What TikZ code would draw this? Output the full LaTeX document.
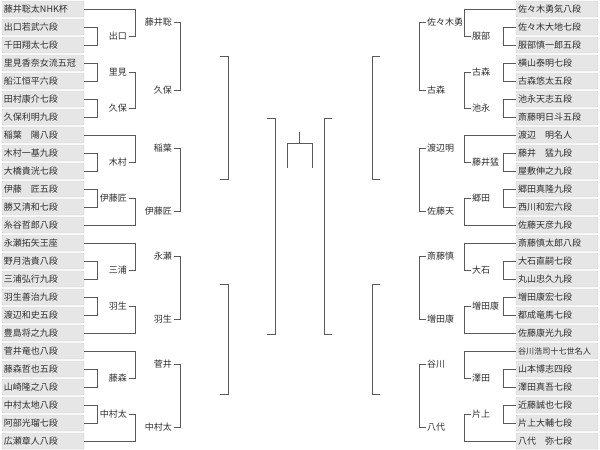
\documentclass[tikz,border=0pt]{standalone}
\usepackage{fontspec}
\newfontfamily\cjk{Noto Sans CJK JP}
\definecolor{boxfill}{HTML}{E6E6E6}
\definecolor{boxline}{HTML}{D0D0D0}
\definecolor{lncol}{HTML}{5A5A5A}
\definecolor{txcol}{HTML}{2E2E2E}
\newcommand\bktL[3]{\draw[brk] (#2.east) -- (#2.east -| #1) -- (#3.east -| #1) -- (#3.east);}
\newcommand\bktR[3]{\draw[brk] (#2.west) -- (#2.west -| #1) -- (#3.west -| #1) -- (#3.west);}
\begin{document}
\begin{tikzpicture}[x=1pt,y=-1pt,
  entry/.style={draw=boxline, fill=boxfill, rounded corners=1pt, minimum height=16pt,
    text width=78pt, inner xsep=2pt, inner ysep=0pt, align=left,
    font=\cjk\fontsize{9}{10}\selectfont, text=txcol},
  wl/.style={anchor=east, inner sep=1.5pt, font=\cjk\fontsize{9}{10}\selectfont, text=txcol},
  wr/.style={anchor=west, inner sep=1.5pt, font=\cjk\fontsize{9}{10}\selectfont, text=txcol},
  emptyl/.style={anchor=east, inner sep=0pt, minimum size=0pt},
  emptyr/.style={anchor=west, inner sep=0pt, minimum size=0pt},
  brk/.style={draw=lncol, line width=1pt}]
\useasboundingbox (0,0) rectangle (600,450);

% columns
\coordinate (cl1) at (97,0);
\coordinate (cl2) at (135,0);
\coordinate (cl3) at (180,0);
\coordinate (cl4) at (228,0);
\coordinate (cl5) at (275,0);
\coordinate (cr1) at (503,0);
\coordinate (cr2) at (464,0);
\coordinate (cr3) at (419,0);
\coordinate (cr4) at (372,0);
\coordinate (cr5) at (324,0);

% left entries
\foreach \t [count=\i from 0] in {藤井聡太NHK杯,出口若武六段,千田翔太七段,里見香奈女流五冠,船江恒平六段,田村康介七段,久保利明九段,稲葉　陽八段,木村一基九段,大橋貴洸七段,伊藤　匠五段,勝又清和七段,糸谷哲郎八段,永瀬拓矢王座,野月浩貴八段,三浦弘行九段,羽生善治九段,渡辺和史五段,豊島将之九段,菅井竜也八段,藤森哲也五段,山崎隆之八段,中村太地八段,阿部光瑠七段,広瀬章人八段}
  \node[entry] (L\i) at (43,{9+18*\i}) {\t};

% right entries
\foreach \t [count=\i from 0] in {佐々木勇気八段,佐々木大地七段,服部慎一郎五段,横山泰明七段,古森悠太五段,池永天志五段,斎藤明日斗五段,渡辺　明名人,藤井　猛九段,屋敷伸之九段,郷田真隆九段,西川和宏六段,佐藤天彦九段,斎藤慎太郎八段,大石直嗣七段,丸山忠久九段,増田康宏七段,都成竜馬七段,佐藤康光九段,{\fontsize{8.1}{10}\selectfont 谷川浩司十七世名人},山本博志四段,澤田真吾七段,近藤誠也七段,片上大輔七段,八代　弥七段}
  \node[entry] (R\i) at (557,{9+18*\i}) {\t};

% left winners, round 1
\node[wl] (a1) at (128.5,36) {出口};
\node[wl] (a3) at (128.5,72) {里見};
\node[wl] (a5) at (128.5,108) {久保};
\node[wl] (a8) at (128.5,162) {木村};
\node[wl] (a10) at (128.5,198) {伊藤匠};
\node[wl] (a14) at (128.5,270) {三浦};
\node[wl] (a16) at (128.5,306) {羽生};
\node[wl] (a20) at (128.5,378) {藤森};
\node[wl] (a22) at (128.5,414) {中村太};
% left winners, round 2
\node[wl] (b0) at (173.5,22.5) {藤井聡};
\node[wl] (b1) at (173.5,90) {久保};
\node[wl] (b2) at (173.5,148.5) {稲葉};
\node[wl] (b3) at (173.5,211.5) {伊藤匠};
\node[wl] (b4) at (173.5,256.5) {永瀬};
\node[wl] (b5) at (173.5,319.5) {羽生};
\node[wl] (b6) at (173.5,364.5) {菅井};
\node[wl] (b7) at (173.5,427.5) {中村太};
% left, undecided
\node[emptyl] (c0) at (220,56) {};
\node[emptyl] (c1) at (220,179) {};
\node[emptyl] (c2) at (220,284) {};
\node[emptyl] (c3) at (220,394) {};
\node[emptyl] (d0) at (267,118) {};
\node[emptyl] (d1) at (267,334) {};

% right winners, round 1
\node[wr] (e1) at (470.5,36) {服部};
\node[wr] (e3) at (470.5,72) {古森};
\node[wr] (e5) at (470.5,108) {池永};
\node[wr] (e8) at (470.5,162) {藤井猛};
\node[wr] (e10) at (470.5,198) {郷田};
\node[wr] (e14) at (470.5,270) {大石};
\node[wr] (e16) at (470.5,306) {増田康};
\node[wr] (e20) at (470.5,378) {澤田};
\node[wr] (e22) at (470.5,414) {片上};
% right winners, round 2
\node[wr] (f0) at (425.5,22.5) {佐々木勇};
\node[wr] (f1) at (425.5,90) {古森};
\node[wr] (f2) at (425.5,148.5) {渡辺明};
\node[wr] (f3) at (425.5,211.5) {佐藤天};
\node[wr] (f4) at (425.5,256.5) {斎藤慎};
\node[wr] (f5) at (425.5,319.5) {増田康};
\node[wr] (f6) at (425.5,364.5) {谷川};
\node[wr] (f7) at (425.5,427.5) {八代};
% right, undecided
\node[emptyr] (g0) at (380,56) {};
\node[emptyr] (g1) at (380,179) {};
\node[emptyr] (g2) at (380,284) {};
\node[emptyr] (g3) at (380,394) {};
\node[emptyr] (h0) at (332,118) {};
\node[emptyr] (h1) at (332,334) {};

% left brackets
\bktL{cl1}{L1}{L2}\bktL{cl1}{L3}{L4}\bktL{cl1}{L5}{L6}\bktL{cl1}{L8}{L9}
\bktL{cl1}{L10}{L11}\bktL{cl1}{L14}{L15}\bktL{cl1}{L16}{L17}\bktL{cl1}{L20}{L21}
\bktL{cl1}{L22}{L23}
\bktL{cl2}{L0}{a1}\bktL{cl2}{a3}{a5}\bktL{cl2}{L7}{a8}\bktL{cl2}{a10}{L12}
\bktL{cl2}{L13}{a14}\bktL{cl2}{a16}{L18}\bktL{cl2}{L19}{a20}\bktL{cl2}{a22}{L24}
\bktL{cl3}{b0}{b1}\bktL{cl3}{b2}{b3}\bktL{cl3}{b4}{b5}\bktL{cl3}{b6}{b7}
\bktL{cl4}{c0}{c1}\bktL{cl4}{c2}{c3}
\bktL{cl5}{d0}{d1}

% right brackets
\bktR{cr1}{R1}{R2}\bktR{cr1}{R3}{R4}\bktR{cr1}{R5}{R6}\bktR{cr1}{R8}{R9}
\bktR{cr1}{R10}{R11}\bktR{cr1}{R14}{R15}\bktR{cr1}{R16}{R17}\bktR{cr1}{R20}{R21}
\bktR{cr1}{R22}{R23}
\bktR{cr2}{R0}{e1}\bktR{cr2}{e3}{e5}\bktR{cr2}{R7}{e8}\bktR{cr2}{e10}{R12}
\bktR{cr2}{R13}{e14}\bktR{cr2}{e16}{R18}\bktR{cr2}{R19}{e20}\bktR{cr2}{e22}{R24}
\bktR{cr3}{f0}{f1}\bktR{cr3}{f2}{f3}\bktR{cr3}{f4}{f5}\bktR{cr3}{f6}{f7}
\bktR{cr4}{g0}{g1}\bktR{cr4}{g2}{g3}
\bktR{cr5}{h0}{h1}

% final
\coordinate (fA) at (287,168);
\coordinate (fB) at (287,143);
\coordinate (fC) at (312,143);
\coordinate (fD) at (312,168);
\coordinate (fM) at (299.5,143);
\coordinate (fT) at (299.5,132);
\draw[brk] (fA) -- (fB) -- (fC) -- (fD);
\draw[brk] (fM) -- (fT);
\end{tikzpicture}
\end{document}
